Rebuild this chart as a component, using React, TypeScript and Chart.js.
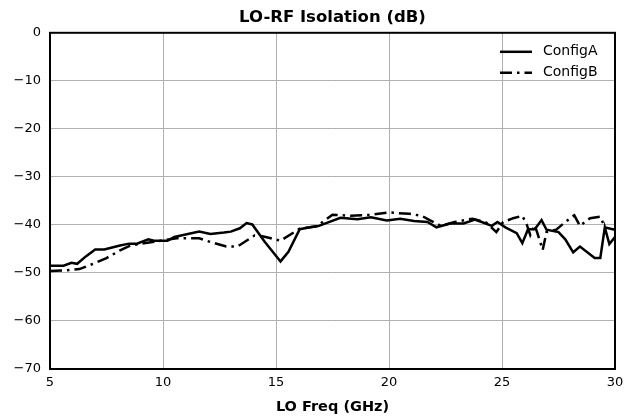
import React, { useEffect, useRef } from "react";
import { Chart, registerables } from "chart.js";

Chart.register(...registerables);

const titleText = "LO-RF Isolation (dB)";
const xAxisTitle = "LO Freq (GHz)";
const seriesNames = ["ConfigA", "ConfigB"];
const xTicks = [5, 10, 15, 20, 25, 30];
const yTicks = [0, -10, -20, -30, -40, -50, -60, -70];

const freqA = [
  5.0, 5.6, 5.95, 6.2, 6.6, 7.0, 7.4, 8.1, 8.5, 8.85, 9.35, 9.6, 10.2, 10.5, 11.0, 11.6, 12.1, 12.7,
  13.0, 13.4, 13.7, 13.95, 14.5, 15.2, 15.55, 16.05, 16.5, 16.9, 17.4, 17.85, 18.6, 19.2, 19.9, 20.5,
  21.1, 21.7, 22.1, 22.7, 23.3, 23.8, 24.1, 24.55, 24.8, 25.15, 25.65, 25.9, 26.15, 26.45, 26.75,
  26.97, 27.5, 27.8, 28.15, 28.45, 29.1, 29.35, 29.55, 29.75, 30.0,
];
const valuesA = [
  -48.5, -48.5, -47.9, -48.1, -46.5, -45.1, -45.1, -44.3, -43.9, -43.9, -43.0, -43.3, -43.3, -42.5,
  -42.0, -41.4, -41.9, -41.6, -41.4, -40.7, -39.6, -39.9, -43.5, -47.6, -45.6, -40.9, -40.5, -40.2,
  -39.3, -38.5, -38.8, -38.4, -39.1, -38.7, -39.2, -39.4, -40.5, -39.7, -39.7, -38.9, -39.4, -40.2,
  -39.4, -40.5, -41.7, -43.8, -40.9, -40.9, -39.0, -41.0, -41.5, -43.0, -45.7, -44.5, -46.9, -46.9,
  -40.5, -44.0, -42.5,
];

const freqB = [
  5.0, 5.6, 6.3, 6.9, 7.5, 8.1, 8.55, 9.3, 9.9, 10.6, 11.6, 12.2, 12.8, 13.3, 14.05, 14.45, 15.2,
  16.05, 16.8, 17.5, 18.3, 19.2, 20.0, 20.9, 21.45, 21.8, 22.3, 22.9, 23.7, 24.3, 24.75, 25.05, 25.5,
  25.9, 26.1, 26.25, 26.45, 26.8, 26.97, 27.4, 27.75, 28.1, 28.2, 28.45, 28.9, 29.35, 29.55, 30.0,
];
const valuesB = [
  -49.6, -49.5, -49.2, -48.1, -46.9, -45.3, -44.3, -43.7, -43.3, -42.8, -42.8, -43.7, -44.5, -44.5,
  -42.2, -42.4, -43.3, -40.8, -40.3, -37.9, -38.1, -37.9, -37.4, -37.7, -38.1, -39.0, -40.2, -39.4,
  -38.7, -39.5, -41.5, -39.4, -38.6, -38.1, -40.0, -42.1, -40.0, -45.2, -41.5, -41.0, -39.6, -38.3,
  -38.0, -40.2, -38.6, -38.3, -40.5, -41.0,
];

const FONT = "'DejaVu Sans', sans-serif";
const DASH_B = [12, 5, 2.5, 5];

const framePlugin = {
  id: "frameAndLegend",
  afterDraw(chart: any) {
    const { ctx, chartArea } = chart;
    ctx.save();
    ctx.strokeStyle = "#000";
    ctx.lineWidth = 2;
    ctx.strokeRect(chartArea.left, chartArea.top, chartArea.right - chartArea.left, chartArea.bottom - chartArea.top);
    // legend
    const lx0 = chartArea.right - 115;
    const lx1 = lx0 + 32;
    const rows = [chartArea.top + 19, chartArea.top + 40];
    ctx.lineWidth = 2.5;
    ctx.font = `14px ${FONT}`;
    ctx.fillStyle = "#000";
    ctx.textBaseline = "middle";
    ctx.textAlign = "left";
    rows.forEach((y, i) => {
      ctx.setLineDash(i === 0 ? [] : DASH_B);
      ctx.beginPath();
      ctx.moveTo(lx0, y);
      ctx.lineTo(lx1, y);
      ctx.stroke();
      ctx.setLineDash([]);
      ctx.fillText(seriesNames[i], lx1 + 11, y);
    });
    ctx.restore();
  },
};

export default function App() {
  const ref = useRef<HTMLCanvasElement>(null);
  useEffect(() => {
    const canvas = ref.current;
    if (!canvas) return;
    const chart = new Chart(canvas, {
      type: "line",
      data: {
        datasets: [
          {
            label: seriesNames[0],
            data: freqA.map((x, i) => ({ x, y: valuesA[i] })),
            borderColor: "#000",
            borderWidth: 2.5,
            pointRadius: 0,
            fill: false,
            tension: 0,
          },
          {
            label: seriesNames[1],
            data: freqB.map((x, i) => ({ x, y: valuesB[i] })),
            borderColor: "#000",
            borderWidth: 2.5,
            borderDash: DASH_B,
            pointRadius: 0,
            fill: false,
            tension: 0,
          },
        ],
      },
      options: {
        responsive: false,
        animation: false,
        layout: { padding: { top: 0, right: 11, bottom: 0, left: 0 } },
        plugins: {
          legend: { display: false },
          tooltip: { enabled: false },
          title: {
            display: true,
            fullSize: false,
            text: titleText,
            color: "#000",
            font: { family: FONT, size: 16.5, weight: "bold" },
            padding: { top: 8, bottom: 5 },
          },
        },
        scales: {
          x: {
            type: "linear",
            min: 5,
            max: 30,
            afterBuildTicks: (s: any) => {
              s.ticks = xTicks.map((v) => ({ value: v }));
            },
            afterFit: (s: any) => {
              s.height = 51;
              s.paddingLeft = 0;
              s.paddingRight = 0;
            },
            ticks: {
              color: "#000",
              font: { family: FONT, size: 13 },
              padding: 6,
              maxRotation: 0,
            },
            grid: { color: "#b0b0b0", lineWidth: 1, drawTicks: false },
            border: { display: false },
            title: {
              display: true,
              text: xAxisTitle,
              color: "#000",
              font: { family: FONT, size: 14.5, weight: "bold" },
              padding: { top: 0, bottom: 4 },
            },
          },
          y: {
            type: "linear",
            min: -70,
            max: 0,
            afterBuildTicks: (s: any) => {
              s.ticks = yTicks.map((v) => ({ value: v }));
            },
            afterFit: (s: any) => {
              s.width = 50;
              s.paddingTop = 0;
              s.paddingBottom = 0;
            },
            ticks: {
              color: "#000",
              font: { family: FONT, size: 13 },
              padding: 9,
              callback: (v: any) => String(v).replace("-", "\u2212"),
            },
            grid: { color: "#b0b0b0", lineWidth: 1, drawTicks: false },
            border: { display: false },
          },
        },
      },
      plugins: [framePlugin],
    });
    return () => chart.destroy();
  }, []);
  return (
    <div style={{ position: "fixed", left: 0, top: 0, width: 626, height: 420, background: "#fff" }}>
      <canvas ref={ref} width={626} height={420} style={{ width: 626, height: 420, display: "block" }} />
    </div>
  );
}
